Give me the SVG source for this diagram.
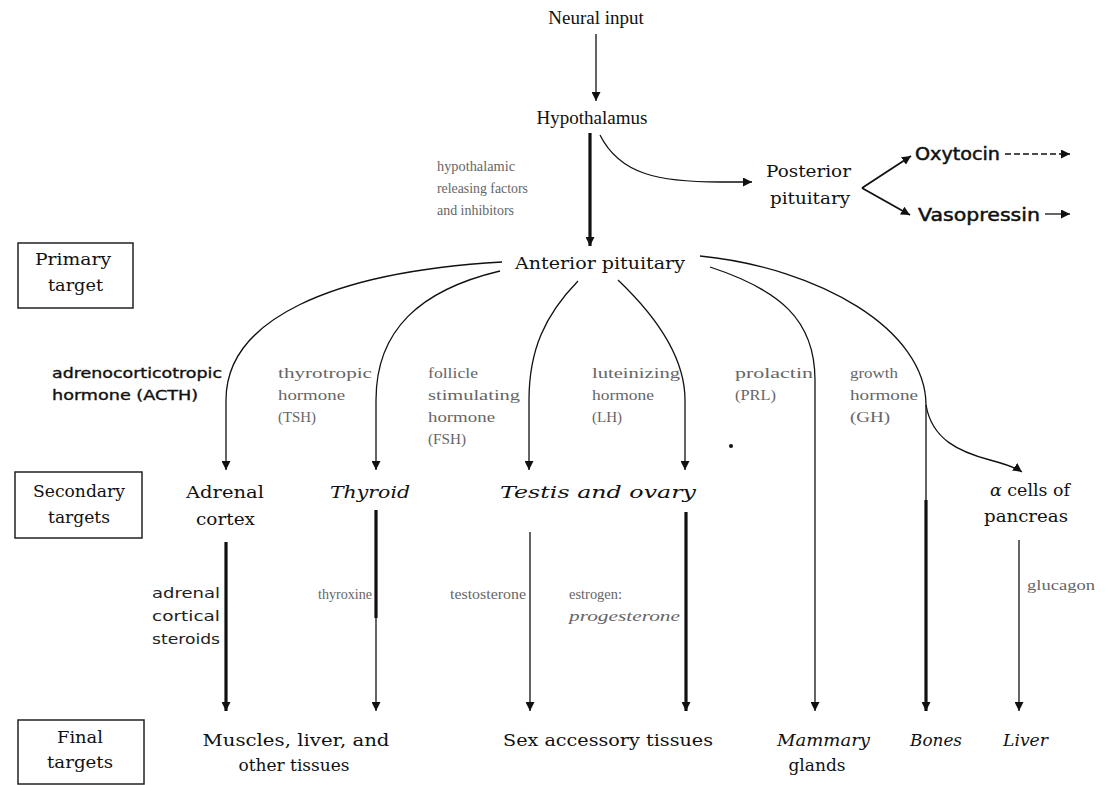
<svg xmlns="http://www.w3.org/2000/svg" width="1114" height="785" viewBox="0 0 1114 785">
<style>
.n{font-family:"DejaVu Serif","Liberation Serif",serif;font-size:17px;fill:#111}
.r{font-family:"Liberation Serif",serif;font-size:19px;fill:#111}
.i{font-style:italic}
.h{font-family:"Liberation Serif",serif;font-size:15px;fill:#666}
.s{font-family:"DejaVu Sans","Liberation Sans",sans-serif;font-size:14px;fill:#222}
.b{font-family:"DejaVu Sans","Liberation Sans",sans-serif;font-size:14px;fill:#111;stroke:#111;stroke-width:0.35}
.o{font-family:"DejaVu Sans","Liberation Sans",sans-serif;font-size:18px;fill:#111;stroke:#111;stroke-width:0.5}
.bx{fill:none;stroke:#222;stroke-width:1.5}
.c{fill:none;stroke:#111;stroke-width:1.3}
.t{fill:none;stroke:#111;stroke-width:3.2}
.m{fill:none;stroke:#111;stroke-width:1.8}
</style>
<defs>
<marker id="a" viewBox="0 0 10 10" refX="10" refY="5" markerWidth="9" markerHeight="9" markerUnits="userSpaceOnUse" orient="auto"><path d="M0,0 L10,5 L0,10 z" fill="#111"/></marker>
</defs>
<g id="connectors">
<path class="c" d="M596,34 L596,101" marker-end="url(#a)"/>
<path class="t" d="M590,133 L590,246" marker-end="url(#a)"/>
<path class="c" d="M600,135 C620,175 660,182 720,182 L752,182" marker-end="url(#a)"/>
<path class="m" d="M862,188 L911,156" marker-end="url(#a)"/>
<path class="m" d="M862,188 L910,215" marker-end="url(#a)"/>
<path class="c" d="M1005,154 L1070,154" stroke-dasharray="6,3" marker-end="url(#a)"/>
<path class="c" d="M1045,214 L1070,214" marker-end="url(#a)"/>
<path class="c" d="M502,262 C330,272 226,320 226,400 L226,470" marker-end="url(#a)"/>
<path class="c" d="M500,271 C420,290 376,330 376,400 L376,470" marker-end="url(#a)"/>
<path class="c" d="M578,281 C545,315 529,350 529,400 L529,470" marker-end="url(#a)"/>
<path class="c" d="M618,280 C660,320 685,360 685,400 L685,470" marker-end="url(#a)"/>
<path class="c" d="M710,267 C780,290 815,320 815,380 L815,711" marker-end="url(#a)"/>
<path class="c" d="M700,256 C820,268 926,330 926,405 L926,500"/>
<path class="t" d="M926,500 L926,711" marker-end="url(#a)"/>
<path class="c" d="M926,405 C932,440 960,452 990,460 C1005,464 1015,467 1022,472" marker-end="url(#a)"/>
<path class="t" d="M226,542 L226,711" marker-end="url(#a)"/>
<path class="t" d="M376,510 L376,618"/>
<path class="c" d="M376,618 L376,711" marker-end="url(#a)"/>
<path class="c" d="M530,532 L530,711" marker-end="url(#a)"/>
<path class="t" d="M686,512 L686,711" marker-end="url(#a)"/>
<path class="c" d="M1019,540 L1019,711" marker-end="url(#a)"/>
<circle cx="731" cy="446" r="2" fill="#111"/>
</g>
<g id="neural-input"><text class="r" x="596" y="24" font-size="18" text-anchor="middle">Neural input</text></g>
<g id="hypothalamus"><text class="r" x="592" y="124" text-anchor="middle">Hypothalamus</text></g>
<g id="releasing-label"><text class="h" x="437" y="171" textLength="78" lengthAdjust="spacingAndGlyphs">hypothalamic</text><text class="h" x="437" y="193" textLength="91" lengthAdjust="spacingAndGlyphs">releasing factors</text><text class="h" x="437" y="215" textLength="77" lengthAdjust="spacingAndGlyphs">and inhibitors</text></g>
<g id="posterior-pituitary"><text class="n" x="766" y="177" textLength="85" lengthAdjust="spacingAndGlyphs">Posterior</text><text class="n" x="770" y="204" textLength="80" lengthAdjust="spacingAndGlyphs">pituitary</text></g>
<g id="oxytocin"><text class="o" x="915" y="160" textLength="85" lengthAdjust="spacingAndGlyphs">Oxytocin</text></g>
<g id="vasopressin"><text class="o" x="918" y="221" textLength="122" lengthAdjust="spacingAndGlyphs">Vasopressin</text></g>
<g id="anterior-pituitary"><text class="n" x="515" y="269" font-size="19" textLength="170" lengthAdjust="spacingAndGlyphs">Anterior pituitary</text></g>
<g id="primary-target"><rect class="bx" x="18" y="243" width="115" height="65"/><text class="n" x="35" y="265" textLength="76" lengthAdjust="spacingAndGlyphs">Primary</text><text class="n" x="48" y="291" textLength="55" lengthAdjust="spacingAndGlyphs">target</text></g>
<g id="secondary-targets"><rect class="bx" x="15" y="472" width="127" height="66"/><text class="n" x="33" y="497" textLength="92" lengthAdjust="spacingAndGlyphs">Secondary</text><text class="n" x="48" y="523" textLength="62" lengthAdjust="spacingAndGlyphs">targets</text></g>
<g id="final-targets"><rect class="bx" x="18" y="720" width="126" height="64"/><text class="n" x="57" y="743" textLength="46" lengthAdjust="spacingAndGlyphs">Final</text><text class="n" x="47" y="768" textLength="66" lengthAdjust="spacingAndGlyphs">targets</text></g>
<g id="acth-label"><text class="b" x="52" y="378" textLength="170" lengthAdjust="spacingAndGlyphs">adrenocorticotropic</text><text class="b" x="52" y="400" textLength="146" lengthAdjust="spacingAndGlyphs">hormone (ACTH)</text></g>
<g id="tsh-label"><text class="h" x="278" y="378" textLength="94" lengthAdjust="spacingAndGlyphs">thyrotropic</text><text class="h" x="278" y="400" textLength="67" lengthAdjust="spacingAndGlyphs">hormone</text><text class="h" x="278" y="422" textLength="38" lengthAdjust="spacingAndGlyphs">(TSH)</text></g>
<g id="fsh-label"><text class="h" x="428" y="378" textLength="50" lengthAdjust="spacingAndGlyphs">follicle</text><text class="h" x="428" y="400" textLength="92" lengthAdjust="spacingAndGlyphs">stimulating</text><text class="h" x="428" y="422" textLength="67" lengthAdjust="spacingAndGlyphs">hormone</text><text class="h" x="428" y="444" textLength="38" lengthAdjust="spacingAndGlyphs">(FSH)</text></g>
<g id="lh-label"><text class="h" x="592" y="378" textLength="88" lengthAdjust="spacingAndGlyphs">luteinizing</text><text class="h" x="592" y="400" textLength="62" lengthAdjust="spacingAndGlyphs">hormone</text><text class="h" x="592" y="422" textLength="30" lengthAdjust="spacingAndGlyphs">(LH)</text></g>
<g id="prl-label"><text class="h" x="735" y="378" textLength="78" lengthAdjust="spacingAndGlyphs">prolactin</text><text class="h" x="735" y="400" textLength="41" lengthAdjust="spacingAndGlyphs">(PRL)</text></g>
<g id="gh-label"><text class="h" x="850" y="378" textLength="48" lengthAdjust="spacingAndGlyphs">growth</text><text class="h" x="850" y="400" textLength="68" lengthAdjust="spacingAndGlyphs">hormone</text><text class="h" x="850" y="422" textLength="40" lengthAdjust="spacingAndGlyphs">(GH)</text></g>
<g id="adrenal-cortex"><text class="n" x="186" y="498" textLength="78" lengthAdjust="spacingAndGlyphs">Adrenal</text><text class="n" x="196" y="525" textLength="59" lengthAdjust="spacingAndGlyphs">cortex</text></g>
<g id="thyroid"><text class="n i" x="330" y="498" textLength="80" lengthAdjust="spacingAndGlyphs">Thyroid</text></g>
<g id="testis-ovary"><text class="n i" x="500" y="498" font-size="19" textLength="196" lengthAdjust="spacingAndGlyphs">Testis and ovary</text></g>
<g id="pancreas"><text class="n" x="990" y="496" textLength="80" lengthAdjust="spacingAndGlyphs"><tspan class="i">α</tspan> cells of</text><text class="n" x="984" y="522" textLength="84" lengthAdjust="spacingAndGlyphs">pancreas</text></g>
<g id="steroids-label"><text class="s" x="152" y="598" textLength="68" lengthAdjust="spacingAndGlyphs">adrenal</text><text class="s" x="152" y="621" textLength="68" lengthAdjust="spacingAndGlyphs">cortical</text><text class="s" x="152" y="644" textLength="68" lengthAdjust="spacingAndGlyphs">steroids</text></g>
<g id="thyroxine-label"><text class="h" x="318" y="599" textLength="54" lengthAdjust="spacingAndGlyphs">thyroxine</text></g>
<g id="testosterone-label"><text class="h" x="450" y="599" textLength="76" lengthAdjust="spacingAndGlyphs">testosterone</text></g>
<g id="estrogen-label"><text class="h" x="569" y="599" textLength="53" lengthAdjust="spacingAndGlyphs">estrogen:</text><text class="h i" x="569" y="621" textLength="111" lengthAdjust="spacingAndGlyphs">progesterone</text></g>
<g id="glucagon-label"><text class="h" x="1027" y="590" textLength="68" lengthAdjust="spacingAndGlyphs">glucagon</text></g>
<g id="muscles"><text class="n" x="296" y="746" text-anchor="middle" textLength="187" lengthAdjust="spacingAndGlyphs">Muscles, liver, and</text><text class="n" x="294" y="771" text-anchor="middle">other tissues</text></g>
<g id="sex-accessory"><text class="n" x="503" y="746" textLength="210" lengthAdjust="spacingAndGlyphs">Sex accessory tissues</text></g>
<g id="mammary"><text class="n i" x="777" y="746" textLength="93" lengthAdjust="spacingAndGlyphs">Mammary</text><text class="n" x="817" y="771" text-anchor="middle">glands</text></g>
<g id="bones"><text class="n i" x="910" y="746" textLength="52" lengthAdjust="spacingAndGlyphs">Bones</text></g>
<g id="liver"><text class="n i" x="1003" y="746" textLength="45" lengthAdjust="spacingAndGlyphs">Liver</text></g>
</svg>
